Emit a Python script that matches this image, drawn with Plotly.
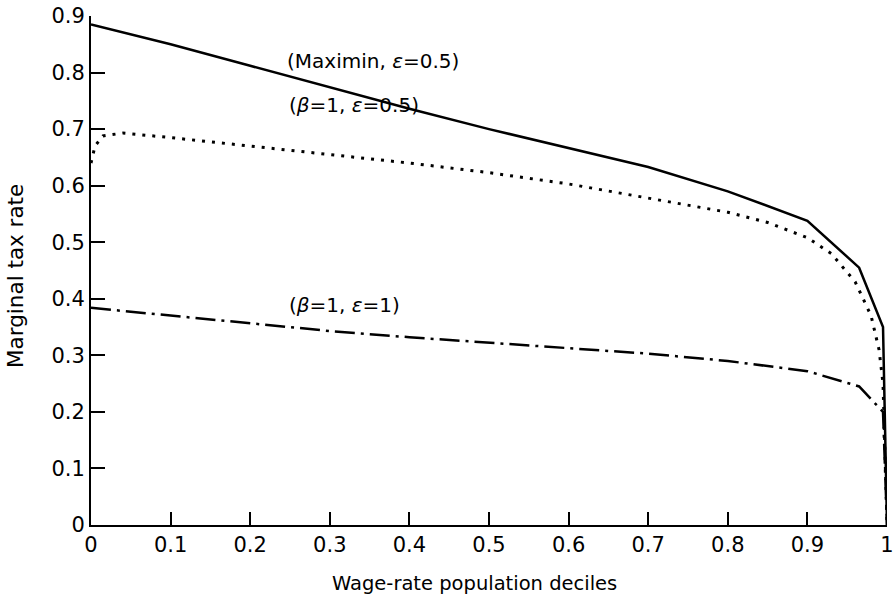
import plotly.graph_objects as go

# Data
x_maximin = [0.0, 0.1, 0.2, 0.3, 0.4, 0.5, 0.6, 0.7, 0.8, 0.9, 0.965, 0.995, 1.0]
y_maximin = [0.885, 0.85, 0.812, 0.774, 0.736, 0.70, 0.667, 0.633, 0.59, 0.538, 0.455, 0.35, 0.0]

x_beta05 = [0.0, 0.005, 0.015, 0.04, 0.1, 0.2, 0.3, 0.4, 0.5, 0.6, 0.7, 0.8, 0.85, 0.9,
            0.93, 0.96, 0.98, 0.99, 0.995, 1.0]
y_beta05 = [0.64, 0.67, 0.688, 0.693, 0.685, 0.67, 0.655, 0.64, 0.623, 0.603, 0.578, 0.553,
            0.535, 0.508, 0.48, 0.43, 0.37, 0.31, 0.25, 0.0]

x_beta1 = [0.0, 0.1, 0.2, 0.3, 0.4, 0.5, 0.6, 0.7, 0.8, 0.9, 0.965, 0.995, 1.0]
y_beta1 = [0.384, 0.37, 0.356, 0.343, 0.332, 0.322, 0.312, 0.303, 0.29, 0.272, 0.245, 0.2, 0.0]

x_ticks = [0, 0.1, 0.2, 0.3, 0.4, 0.5, 0.6, 0.7, 0.8, 0.9, 1]
x_tick_labels = ["0", "0.1", "0.2", "0.3", "0.4", "0.5", "0.6", "0.7", "0.8", "0.9", "1"]
y_ticks = [0, 0.1, 0.2, 0.3, 0.4, 0.5, 0.6, 0.7, 0.8, 0.9]
y_tick_labels = ["0", "0.1", "0.2", "0.3", "0.4", "0.5", "0.6", "0.7", "0.8", "0.9"]

labels = ["(Maximin, <i>ε</i>=0.5)", "(<i>β</i>=1, <i>ε</i>=0.5)", "(<i>β</i>=1, <i>ε</i>=1)"]
label_x = [0.354, 0.33, 0.319]
label_y = [0.82, 0.742, 0.389]

x_title = "Wage-rate population deciles"
y_title = "Marginal tax rate"

FONT = "DejaVu Sans, Liberation Sans, sans-serif"

fig = go.Figure()
fig.add_trace(go.Scatter(x=x_maximin, y=y_maximin, mode="lines", cliponaxis=False,
                         line=dict(color="black", width=2.5), showlegend=False))
fig.add_trace(go.Scatter(x=x_beta05, y=y_beta05, mode="lines", cliponaxis=False,
                         line=dict(color="black", width=3, dash="3px,7px"), showlegend=False))
fig.add_trace(go.Scatter(x=x_beta1, y=y_beta1, mode="lines", cliponaxis=False,
                         line=dict(color="black", width=2.5, dash="20px,6px,3px,6px"),
                         showlegend=False))

for t, xx, yy in zip(labels, label_x, label_y):
    fig.add_annotation(x=xx, y=yy, text=t, showarrow=False,
                       font=dict(family=FONT, size=20, color="black"))

fig.add_annotation(xref="paper", yref="paper", x=0.482, y=-0.114, text=x_title,
                   xanchor="center", yanchor="middle",
                   showarrow=False, font=dict(family=FONT, size=19.5, color="black"))
fig.add_annotation(xref="paper", yref="paper", x=-0.095, y=0.49, text=y_title,
                   xanchor="center", yanchor="middle",
                   showarrow=False, textangle=-90, font=dict(family=FONT, size=21.5, color="black"))

fig.update_layout(
    width=894, height=609,
    margin=dict(l=91, r=7, t=16, b=84),
    paper_bgcolor="white", plot_bgcolor="white",
    font=dict(family=FONT, size=18, color="black"),
)
fig.update_xaxes(range=[0, 1], tickvals=x_ticks, ticktext=x_tick_labels,
                 ticks="inside", ticklen=13, tickwidth=1.8, tickcolor="black",
                 showline=True, linecolor="black", linewidth=2, showgrid=False,
                 zeroline=False, automargin=False, ticklabeloverflow="allow",
                 tickfont=dict(size=21))
fig.update_yaxes(range=[0, 0.9], tickvals=y_ticks, ticktext=y_tick_labels,
                 ticks="inside", ticklen=14, tickwidth=1.8, tickcolor="black",
                 showline=True, linecolor="black", linewidth=2, showgrid=False,
                 zeroline=False, automargin=False, ticklabeloverflow="allow",
                 tickfont=dict(size=21))

# remove the page's default 8px body margin so the figure fills the window exactly
fig.write_html("out.html", config={"displayModeBar": False},
               post_script="document.body.style.margin='0';")
